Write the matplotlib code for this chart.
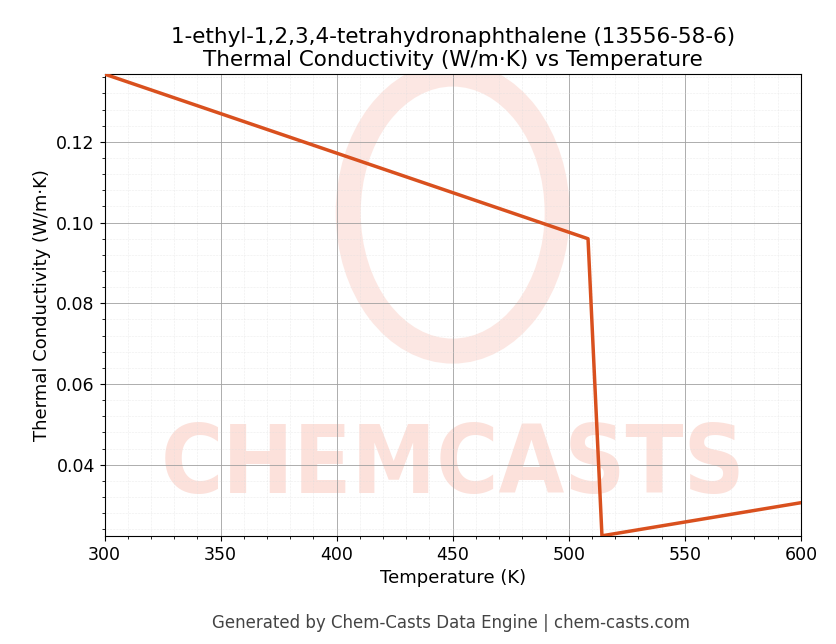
import matplotlib.pyplot as plt
from matplotlib.patches import Ellipse
from matplotlib.ticker import AutoMinorLocator

# values
temps = [300, 508.3, 514.3, 600]
conductivity = [0.1368, 0.0960, 0.0224, 0.0306]

fig, ax = plt.subplots(figsize=(8.36, 6.44), dpi=100)
fig.subplots_adjust(left=0.125, right=0.958, top=0.885, bottom=0.168)

# faint watermark
wm = ax.text(0.5, 0.15, 'CHEMCASTS', transform=ax.transAxes, ha='center', va='center',
             fontsize=68, fontweight='bold', color='#fbd5cc', alpha=0.7, zorder=0,
             clip_on=True)
wm.set_fontstretch('condensed')
ax.add_patch(Ellipse((0.5, 0.7), 0.3, 0.6, transform=ax.transAxes, fill=False,
                     lw=18, ec='#fbd5cc', alpha=0.55, zorder=0))

ax.plot(temps, conductivity, color='#d9501e', lw=2.5, zorder=3)

ax.set_xlim(300, 600)
ax.set_ylim(0.0224, 0.1368)
ax.xaxis.set_minor_locator(AutoMinorLocator(5))
ax.yaxis.set_minor_locator(AutoMinorLocator(5))
ax.grid(True, which='major', color='#a0a0a0', lw=0.6)
ax.grid(True, which='minor', color='#dddddd', lw=0.4, ls=':')
ax.tick_params(labelsize=12.5)

ax.set_title('1-ethyl-1,2,3,4-tetrahydronaphthalene (13556-58-6)\nThermal Conductivity (W/m·K) vs Temperature',
             fontsize=15.5)
ax.set_xlabel('Temperature (K)', fontsize=13)
ax.set_ylabel('Thermal Conductivity (W/m·K)', fontsize=13)
fig.text(0.54, 0.025, 'Generated by Chem-Casts Data Engine | chem-casts.com',
         ha='center', fontsize=12, color='#444444')

fig.savefig('out.png')
